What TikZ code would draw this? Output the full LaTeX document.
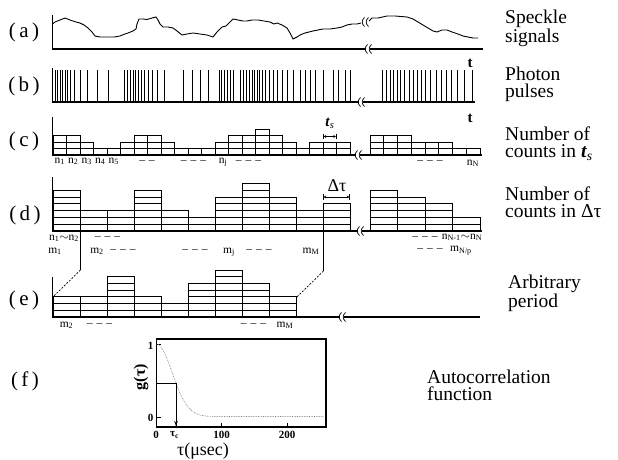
\documentclass[tikz,border=0pt]{standalone}
\usepackage{fontspec}
\setmainfont{Liberation Serif}
\usetikzlibrary{arrows.meta}
\newcommand{\axbreak}[2]{%
  \foreach \dx in {-2,2}{%
    \draw[line width=0.7pt] ({#1+\dx+1.5},{#2-4.5}) .. controls ({#1+\dx-1.5},{#2-2}) and ({#1+\dx-1.5},{#2+2}) .. ({#1+\dx+1.5},{#2+4.5});
  }}
\newcommand{\dsh}{\textendash\hspace{4pt}\textendash\hspace{4pt}\textendash}
\newcommand{\dshtwo}{\textendash\hspace{4pt}\textendash}
\begin{document}
\begin{tikzpicture}[x=1pt,y=-1pt,
  bar/.style={line width=0.9pt},
  ax/.style={line width=1.3pt},
  pulse/.style={line width=0.8pt},
  lab/.style={font=\fontsize{21}{21}\selectfont, inner sep=0pt},
  rlab/.style={font=\fontsize{19.5}{17.5}\selectfont, inner sep=0pt, anchor=base west, align=left},
  sml/.style={font=\fontsize{11.5}{11.5}\selectfont, inner sep=0pt, anchor=base},
  tick/.style={font=\fontsize{11}{11}\selectfont\bfseries, inner sep=0pt},
  conn/.style={line width=0.7pt, dash pattern=on 2pt off 1.5pt}
]
\useasboundingbox (0,0) rectangle (618,460);

% ---------- panel labels
\node[lab] (pa) at (24,32) {(\kern3.5pt a\kern3.5pt)};
\node[lab] (pb) at (24,86) {(\kern3.5pt b\kern3.5pt)};
\node[lab] (pc) at (24,141) {(\kern3.5pt c\kern3.5pt)};
\node[lab] (pd) at (25,215) {(\kern3.5pt d\kern3.5pt)};
\node[lab] (pe) at (24,300) {(\kern3.5pt e\kern3.5pt)};
\node[lab] (pf) at (25,381) {(\kern3.5pt f\kern3.5pt)};

% ---------- right labels (anchor = baseline of the last line)
\node[rlab] (ra) at (505,42.5) {Speckle\\signals};
\node[rlab] (rb) at (505,97.5) {Photon\\pulses};
\node[rlab] (rc) at (505,157.5) {Number of\\counts in \textbf{\textit{t}}\textsubscript{\textit{s}}};
\node[rlab] (rd) at (505,217.5) {Number of\\counts in Δτ};
\node[rlab] (re) at (508,307.5) {Arbitrary\\period};
\node[rlab] (rf) at (427,400.5) {Autocorrelation\\function};

% ---------- (a) speckle signals
\draw[ax] (52.5,15) -- (52.5,49) -- (366,49);
\draw[ax] (370,49) -- (483,49);
\axbreak{368}{49}
\draw[line width=0.9pt] (52.5,24) -- (55,22) -- (60,20) -- (65,18) -- (70,20) -- (76,22) -- (80,23) -- (84,25) -- (88,28) -- (92,32) -- (95,36) -- (100,37) -- (107,37) -- (114,37) -- (120,36) -- (125,34) -- (128,33) -- (133,31) -- (136,29) -- (137,24) -- (139,19) -- (143,19) -- (147,19.5) -- (152,18) -- (156,17) -- (158,20) -- (160,24) -- (163,27) -- (168,27) -- (173,28) -- (177,31) -- (182,35) -- (187,34) -- (193,33) -- (200,34) -- (207,35) -- (213,37) -- (217,32) -- (222,27) -- (226,26) -- (230,22) -- (233,19) -- (238,20) -- (243,21) -- (247,21) -- (252,20) -- (258,20) -- (264,21) -- (270,22) -- (274,24) -- (277,23) -- (282,25) -- (287,28) -- (290,33) -- (293,39) -- (297,37) -- (300,35) -- (305,33) -- (309,32) -- (313,31) -- (318,30) -- (323,29) -- (330,29) -- (337,28) -- (342,27) -- (347,25) -- (352,24) -- (357,24) -- (361,23);
\draw[line width=0.9pt] (369,21) -- (372,18) -- (378,18) -- (387,16) -- (395,16) -- (407,17) -- (413,19) -- (418,22) -- (423,25) -- (428,28) -- (433,31) -- (437,32) -- (442,30) -- (447,30) -- (452,32) -- (458,34) -- (463,36) -- (468,37) -- (473,38) -- (478,38);
\axbreak{365}{22}
\node[font=\fontsize{15}{15}\selectfont\bfseries, inner sep=0pt] (ta) at (470,63) {t};

% ---------- (b) photon pulses
\draw[ax] (52.5,68) -- (52.5,102) -- (359,102);
\draw[ax] (363,102) -- (475,102);
\axbreak{361}{102}
\foreach \x in {55,57.5,60,62.5,65,67.5,70,74,80,87,97,108,124,127,130,133,135.5,138,141,144,148,152,157,164,183,192,200,208,219,221.5,224,227,230,233,240,243,246,249,252,254.5,257,259.5,262,265,269,273,277,282,287,293,300,305,310,315,323,333,338,345,350,382,386,390,393,397,400,404,409,413,417,421,425,430,436,441,446,451,457,464,472}
  \draw[pulse] (\x,70) -- (\x,102);
\node[font=\fontsize{15}{15}\selectfont\bfseries, inner sep=0pt] (tb) at (470,118) {t};

% ---------- (c) counts in t_s
\draw[ax] (52.5,117) -- (52.5,155) -- (356,155);
\draw[ax] (360,155) -- (482,155);
\axbreak{358}{155}
\foreach \h [count=\i from 0] in {3,3,2,1,1,2,3,3,2,1,1,1,2,3,3,4,3,2,1,2,2,2}{
  \foreach \k in {1,...,\h}{
    \draw[bar] ({53+\i*13.5},{155-(\k-1)*6.5}) rectangle ({53+(\i+1)*13.5},{155-\k*6.5});
  }
}
\foreach \h [count=\i from 0] in {3,3,3,2,2,2,1,1}{
  \foreach \k in {1,...,\h}{
    \draw[bar] ({370+\i*13.75},{155-(\k-1)*6.5}) rectangle ({370+(\i+1)*13.75},{155-\k*6.5});
  }
}
\coordinate (tsL) at (323,136.5);
\coordinate (tsR) at (336.5,136.5);
\draw[line width=0.7pt, |<->|, >={Stealth[length=2.5pt,width=3pt]}] (tsL) -- (tsR);
\node[font=\fontsize{15}{15}\selectfont, inner sep=0pt] (tsl) at (330,123) {\textbf{\textit{t}}\textsubscript{\textit{s}}};
\node[sml] (n1) at (59.75,163) {n\textsubscript{1}};
\node[sml] (n2) at (73.25,163) {n\textsubscript{2}};
\node[sml] (n3) at (86.75,163) {n\textsubscript{3}};
\node[sml] (n4) at (100.25,163) {n\textsubscript{4}};
\node[sml] (n5) at (113.75,163) {n\textsubscript{5}};
\node[sml] (cd1) at (147,163) {\dshtwo};
\node[sml] (cd2) at (193.5,163) {\dsh};
\node[sml] (nj) at (223,163) {n\textsubscript{j}};
\node[sml] (cd3) at (248.5,163) {\dsh};
\node[sml] (cd4) at (430,163) {\dsh};
\node[sml] (nN) at (473,165) {n\textsubscript{N}};

% ---------- (d) counts in Delta tau
\draw[ax] (52.5,177) -- (52.5,231) -- (358,231);
\draw[ax] (362,231) -- (482,231);
\axbreak{360}{231}
\foreach \h [count=\i from 0] in {6,3,3,6,3,2,5,7,5,3,4}{
  \foreach \k in {1,...,\h}{
    \draw[bar] ({53+\i*27},{231-(\k-1)*6.8}) rectangle ({53+(\i+1)*27},{231-\k*6.8});
  }
}
\foreach \h [count=\i from 0] in {6,5,4,2}{
  \foreach \k in {1,...,\h}{
    \draw[bar] ({370+\i*27.5},{231-(\k-1)*6.8}) rectangle ({370+(\i+1)*27.5},{231-\k*6.8});
  }
}
\coordinate (dtL) at (323,197);
\coordinate (dtR) at (350,197);
\draw[line width=0.7pt, |<->|, >={Stealth[length=2.5pt,width=3pt]}] (dtL) -- (dtR);
\node[font=\fontsize{18}{18}\selectfont, inner sep=0pt] (dtl) at (337,186) {Δτ};
\node[sml] (n12) at (64,240) {n\textsubscript{1}$\sim$n\textsubscript{2}};
\node[sml] (dd1) at (107.5,239) {\dsh};
\node[sml] (m1) at (55,253) {m\textsubscript{1}};
\node[sml] (m2) at (97,253) {m\textsubscript{2}};
\node[sml] (dd2) at (123,252) {\dsh};
\node[sml] (dd3) at (195,252) {\dsh};
\node[sml] (mj) at (229,253) {m\textsubscript{j}};
\node[sml] (dd4) at (259,252) {\dsh};
\node[sml] (mM) at (311,253) {m\textsubscript{M}};
\node[sml] (dd5) at (425,239) {\dsh};
\node[sml] (nN1) at (462,239) {n\textsubscript{N-1}$\sim$n\textsubscript{N}};
\node[sml] (dd6) at (430,251.5) {\dsh};
\node[sml] (mNp) at (461,251.5) {m\textsubscript{N/p}};

% ---------- connectors (d) -> (e)
\coordinate (dL) at (80.5,231);
\coordinate (dLk) at (80.5,270);
\coordinate (eL) at (53,296.9);
\coordinate (dR) at (323.5,231);
\coordinate (dRk) at (323.5,271);
\coordinate (eR) at (297,296.9);
\draw[line width=0.9pt] (dL) -- (dLk);
\draw[conn] (dLk) -- (eL);
\draw[line width=0.9pt] (dR) -- (dRk);
\draw[conn] (dRk) -- (eR);

% ---------- (e) arbitrary period
\draw[ax] (52.5,277) -- (52.5,317) -- (340,317);
\draw[ax] (344,317) -- (480,317);
\axbreak{342}{317}
\foreach \h [count=\i from 0] in {3,3,6,3,2,5,7,5,3}{
  \foreach \k in {1,...,\h}{
    \draw[bar] ({53+\i*27.1},{317-(\k-1)*6.7}) rectangle ({53+(\i+1)*27.1},{317-\k*6.7});
  }
}
\node[sml] (em2) at (66.5,327) {m\textsubscript{2}};
\node[sml] (ed1) at (99.5,326) {\dsh};
\node[sml] (ed2) at (253.5,326) {\dsh};
\node[sml] (emM) at (285,327) {m\textsubscript{M}};

% ---------- (f) autocorrelation
\draw[line width=1.6pt] (156.5,339) rectangle (326,427);
\draw[line width=0.8pt] (156.5,417) -- (161,417);
\draw[line width=0.8pt] (156.5,344) -- (161,344);
\draw[line width=0.8pt] (221.7,427) -- (221.7,423);
\draw[line width=0.8pt] (287,427) -- (287,423);
\draw[gray, line width=0.7pt, densely dotted] plot[domain=0:258, samples=90, smooth] ({156.5+0.65*\x},{416.5-72.5*exp(-min((\x/34)^2,10))});
\coordinate (tcA) at (156.5,383.3);
\coordinate (tcB) at (176,383.3);
\coordinate (tcC) at (176,426);
\draw[line width=1pt] (tcA) -- (tcB) -- (tcC);
\draw[line width=1pt, -{Stealth[length=5pt,width=3.5pt]}] (176,415) -- (tcC);
\node[tick] (y1) at (150.5,346) {1};
\node[tick] (y0) at (150.5,418) {0};
\node[tick] (x0) at (156,435) {0};
\node[tick] (xtc) at (174.5,435) {τ\textsubscript{c}};
\node[tick] (x100) at (221.7,435) {100};
\node[tick] (x200) at (287,435) {200};
\node[font=\fontsize{16}{16}\selectfont\bfseries, inner sep=0pt, rotate=90] (gy) at (141,377) {g(τ)};
\node[font=\fontsize{18}{18}\selectfont, inner sep=0pt] (xl) at (203,451.5) {τ(μsec)};
\end{tikzpicture}
\end{document}
